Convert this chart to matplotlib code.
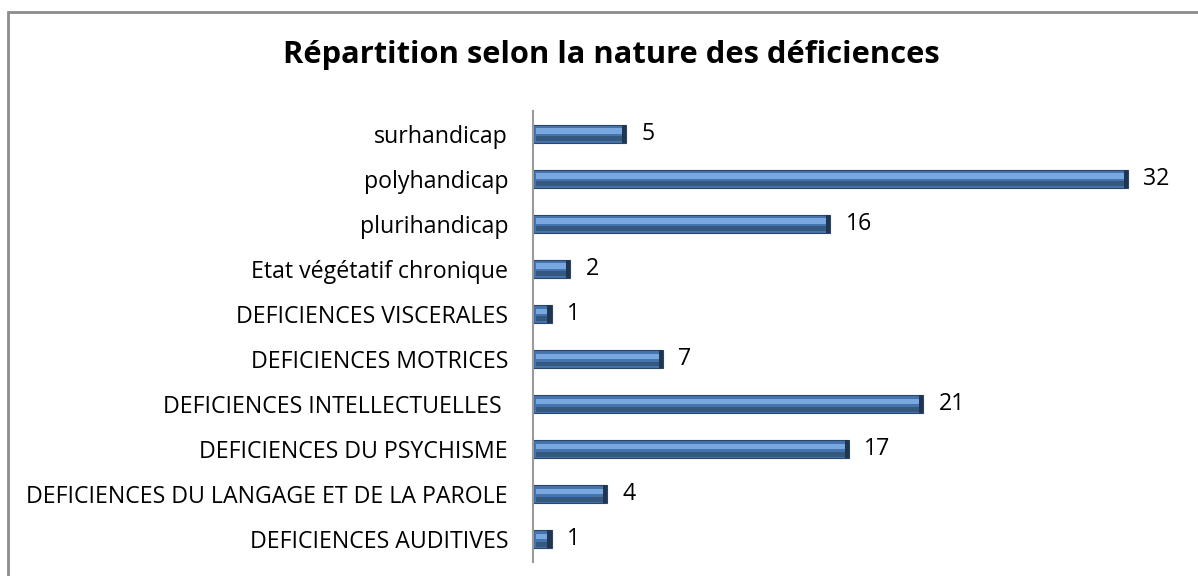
import matplotlib.pyplot as plt
from matplotlib.patches import Rectangle

categories = ['DEFICIENCES AUDITIVES',
              'DEFICIENCES DU LANGAGE ET DE LA PAROLE',
              'DEFICIENCES DU PSYCHISME',
              'DEFICIENCES INTELLECTUELLES ',
              'DEFICIENCES MOTRICES',
              'DEFICIENCES VISCERALES',
              'Etat végétatif chronique',
              'plurihandicap',
              'polyhandicap',
              'surhandicap']
values = [1, 4, 17, 21, 7, 1, 2, 16, 32, 5]

plt.rcParams['font.family'] = ['Open Sans', 'DejaVu Sans']

fig = plt.figure(figsize=(11.98, 5.76), dpi=100)
fig.patches.append(Rectangle((8 / 1198, -0.2), 1.2, 1.2 - 12 / 576,
                             transform=fig.transFigure, fill=False,
                             edgecolor='#8c8c8c', lw=2))

ax = fig.add_axes([533 / 1198, 1 - 562 / 576, 632 / 1198, (562 - 111) / 576])
y = list(range(len(categories)))
h = 0.4
# bevelled bar look: base, light upper band, darker lower band, dark end cap
ax.barh(y, values, height=h, color='#4573ad', edgecolor='#2a466a', lw=0.8)
ax.barh([i + 0.06 for i in y], [v - 0.3 for v in values], left=0.15,
        height=0.12, color='#79a7e0', lw=0)
ax.barh([i - 0.11 for i in y], [v - 0.3 for v in values], left=0.15,
        height=0.11, color='#35587f', lw=0)
ax.barh(y, [0.22] * len(values), left=[v - 0.22 for v in values],
        height=h, color='#1f3550', lw=0)

for i, v in enumerate(values):
    ax.annotate(str(v), (v, i), xytext=(11, 0), textcoords='offset points',
                ha='left', va='center', fontsize=16.7)

ax.set_xlim(0, 34)
ax.set_ylim(-0.5, 9.5)
ax.set_yticks(y)
ax.set_yticklabels(categories, fontsize=16.7)
ax.tick_params(axis='y', length=0, pad=18)
ax.set_xticks([])
for s in ['top', 'right', 'bottom']:
    ax.spines[s].set_visible(False)
ax.spines['left'].set_color('#9a9a9a')
ax.spines['left'].set_linewidth(1.5)

fig.text(0.51, 0.905, 'Répartition selon la nature des déficiences',
         ha='center', va='center', fontsize=22.2, fontweight='bold')

fig.savefig('out.png', dpi=100)
